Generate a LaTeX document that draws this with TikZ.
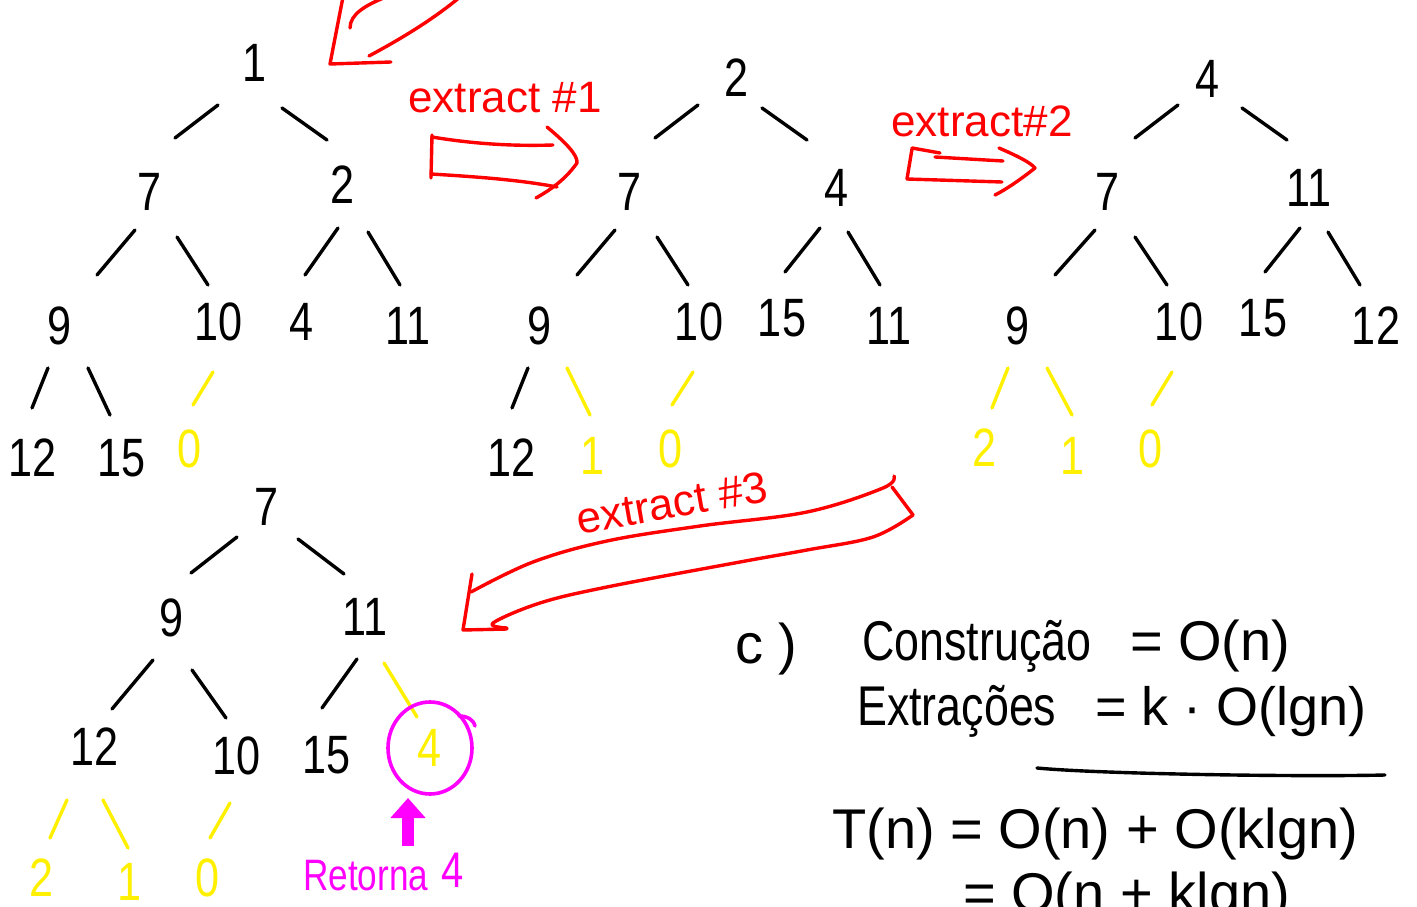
\documentclass[tikz,border=0pt]{standalone}
\usepackage{fontspec}
\usetikzlibrary{calc,arrows.meta}
\newfontfamily\hand[FakeStretch=0.8]{Liberation Sans}
\newfontfamily\handw{Liberation Sans}
\definecolor{penred}{RGB}{255,0,0}
\definecolor{penyellow}{RGB}{255,240,0}
\definecolor{penmagenta}{RGB}{255,0,255}
\tikzset{
  key/.style={inner sep=0pt, font=\hand\fontsize{54}{54}\selectfont},
  newkey/.style={key, text=penyellow},
  edge/.style={line width=3.4pt, line cap=round},
  newedge/.style={edge, draw=penyellow},
  redpen/.style={draw=penred, line width=3.4pt, line cap=round, line join=round},
  magpen/.style={draw=penmagenta, line width=3.6pt, line cap=round, line join=round},
  redtext/.style={inner sep=0pt, text=penred, font=\handw\fontsize{42}{42}\selectfont},
  note/.style={inner sep=0pt, anchor=base west, font=\handw\fontsize{56}{56}\selectfont},
  noteword/.style={note, font=\hand\fontsize{56}{56}\selectfont},
}
% branch from parent (#1, offset #2) to child (#3, offset #4)
\newcommand\branch[5][edge]{\draw[#1] ($(#2)+(#3)$) -- ($(#4)+(#5)$);}
\begin{document}
\begin{tikzpicture}[x=1pt,y=-1pt]
\useasboundingbox (0,0) rectangle (1417,907);
\clip (0,0) rectangle (1417,907);

% ---- heap 1: [1,7,2,9,10,4,11,12,15] + 0
\node[key] (A1) at (255,63) {1};
\node[key] (A7) at (150,192) {7};
\node[key] (A2) at (343,185) {2};
\node[key] (A9) at (60,326) {9};
\node[key] (A10) at (219,322) {10};
\node[key] (A4) at (302,322) {4};
\node[key] (A11) at (408,326) {11};
\node[key] (A12) at (33,458) {12};
\node[key] (A15) at (122,458) {15};
\node[newkey] (A0) at (190,449) {0};
\branch{A1}{-37,42}{A7}{25,-54}
\branch{A1}{27,45}{A2}{-16,-45}
\branch{A7}{-15,38}{A9}{37,-51}
\branch{A7}{27,45}{A10}{-11,-37}
\branch{A2}{-5,43}{A4}{3,-47}
\branch{A2}{25,47}{A11}{-8,-41}
\branch{A9}{-12,42}{A12}{-1,-50}
\branch{A9}{28,42}{A15}{-12,-43}
\branch[newedge]{A10}{-6,50}{A0}{3,-44}

% ---- heap 2
\node[key] (B2) at (737,78) {2};
\node[key] (B7) at (630,192) {7};
\node[key] (B4) at (837,188) {4};
\node[key] (B9) at (540,326) {9};
\node[key] (B10) at (699,322) {10};
\node[key] (B15) at (782,318) {15};
\node[key] (B11) at (889,326) {11};
\node[key] (B12) at (512,458) {12};
\node[newkey] (B1) at (593,456) {1};
\node[newkey] (B0) at (671,449) {0};
\branch{B2}{-39,27}{B7}{25,-54}
\branch{B2}{25,30}{B4}{-30,-48}
\branch{B7}{-15,38}{B9}{37,-51}
\branch{B7}{27,45}{B10}{-11,-37}
\branch{B4}{-17,40}{B15}{3,-46}
\branch{B4}{11,44}{B11}{-9,-41}
\branch{B9}{-12,42}{B12}{0,-50}
\branch[newedge]{B9}{27,42}{B1}{-3,-41}
\branch[newedge]{B10}{-6,50}{B0}{1,-44}

% ---- heap 3
\node[key] (C4) at (1208,79) {4};
\node[key] (C7) at (1108,192) {7};
\node[key] (C11) at (1309,188) {11};
\node[key] (C9) at (1018,326) {9};
\node[key] (C10) at (1179,322) {10};
\node[key] (C15) at (1263,318) {15};
\node[key] (C12) at (1376,326) {12};
\node[newkey] (C2) at (985,448) {2};
\node[newkey] (C1) at (1073,456) {1};
\node[newkey] (C0) at (1151,449) {0};
\branch{C4}{-30,26}{C7}{27,-54}
\branch{C4}{34,29}{C11}{-22,-48}
\branch{C7}{-13,38}{C9}{37,-51}
\branch{C7}{27,45}{C10}{-12,-37}
\branch{C11}{-9,40}{C15}{2,-46}
\branch{C11}{19,44}{C12}{-16,-41}
\branch[newedge]{C9}{-10,42}{C2}{7,-40}
\branch[newedge]{C9}{29,42}{C1}{-1,-41}
\branch[newedge]{C10}{-7,50}{C0}{1,-44}

% ---- heap 4
\node[key] (D7) at (267,507) {7};
\node[key] (D9) at (172,618) {9};
\node[key] (D11) at (365,617) {11};
\node[key] (D12) at (95,747) {12};
\node[key] (D10) at (237,756) {10};
\node[key] (D15) at (327,755) {15};
\node[newkey] (D4) at (430,748) {4};
\node[newkey] (D2) at (42,878) {2};
\node[newkey] (D1) at (130,882) {1};
\node[newkey] (D0) at (208,878) {0};
\branch{D7}{-30,30}{D9}{19,-45}
\branch{D7}{31,32}{D11}{-21,-43}
\branch{D9}{-19,42}{D12}{17,-38}
\branch{D9}{20,52}{D10}{-11,-38}
\branch{D11}{-8,42}{D15}{-5,-47}
\branch[newedge]{D11}{19,46}{D4}{-13,-31}
\branch[newedge]{D12}{-28,53}{D2}{8,-40}
\branch[newedge]{D12}{8,53}{D1}{-2,-34}
\branch[newedge]{D10}{-7,47}{D0}{2,-40}

% returned minimum
\draw[magpen] (D4) ellipse [x radius=42, y radius=46];
\draw[magpen] (459,716) .. controls (467,716) and (473,719) .. (475,726);
\coordinate (upfoot) at (408,846);
\node[inner sep=0pt, text=penmagenta, font=\hand\fontsize{44}{44}\selectfont, anchor=base west] (ret) at (303,890) {Retorna};
\node[inner sep=0pt, text=penmagenta, font=\hand\fontsize{50}{50}\selectfont] (retval) at (453,870) {4};
\draw[draw=penmagenta, line width=12pt, -{Triangle[width=34pt,length=20pt]}] (upfoot) -- ($(upfoot)+(0,-48)$);

% ---- red arrows between heaps
% incoming arrow at the top
\draw[redpen] (343,-3) -- (330,64) -- (391,62);
\draw[redpen] (350,28) .. controls (350,14) and (366,5) .. (386,-3);
\draw[redpen] (369,56) .. controls (395,42) and (430,22) .. (460,-3);

% extract #1
\node[redtext, font=\handw\fontsize{44}{44}\selectfont] (x1) at (505,98) {extract \#1};
\draw[redpen] (432,135) -- (431,178);
\draw[redpen] (432,137) .. controls (480,145) and (520,146) .. (553,145);
\draw[redpen] (431,174) .. controls (480,177) and (520,180) .. (557,187);
\draw[redpen] (547,127) .. controls (565,142) and (578,155) .. (577,163)
  .. controls (565,180) and (550,190) .. (536,198);

% extract #2
\node[redtext, font=\handw\fontsize{44}{44}\selectfont] (x2) at (982,121) {extract\#2};
\draw[redpen] (912,149) -- (907,179);
\draw[redpen] (912,148) -- (940,153);
\draw[redpen] (935,157) -- (1003,161);
\draw[redpen] (907,179) -- (1002,182);
\draw[redpen] (999,148) .. controls (1015,155) and (1030,162) .. (1035,168)
  .. controls (1020,180) and (1005,190) .. (995,195);

% extract #3
\node[redtext, rotate=10, font=\handw\fontsize{44}{44}\selectfont] (x3) at (672,503) {extract \#3};
\draw[redpen] plot[smooth, tension=0.6] coordinates {(894,476) (883,488) (807,512) (700,526) (607,541) (533,562) (471,592)};
\draw[redpen] (892,487) -- (913,515);
\draw[redpen] plot[smooth, tension=0.6] coordinates {(913,515) (873,537) (807,550) (740,562) (607,587) (540,603) (493,623) (507,628)};
\draw[redpen] (472,574) -- (463,630) -- (507,629);

% ---- cost analysis
\node[note] (c) at (735,663) {c )};
\node[noteword] (cons) at (862,660) {Construção};
\node[note] (consv) at (1130,660) {= O(n)};
\node[noteword] (extr) at (857,725) {Extrações};
\node[note, font=\handw\fontsize{54}{54}\selectfont] (extrv) at (1095,725) {= k · O(lgn)};
\coordinate (ul1) at (1037,768);
\coordinate (ul2) at (1385,775);
\draw[edge] (ul1) .. controls (1100,774) and (1300,777) .. (ul2);
\node[note] (tn) at (832,848) {T(n) = O(n) + O(klgn)};
\node[note] (tn2) at (963,912) {= O(n + klgn)};
\end{tikzpicture}
\end{document}
